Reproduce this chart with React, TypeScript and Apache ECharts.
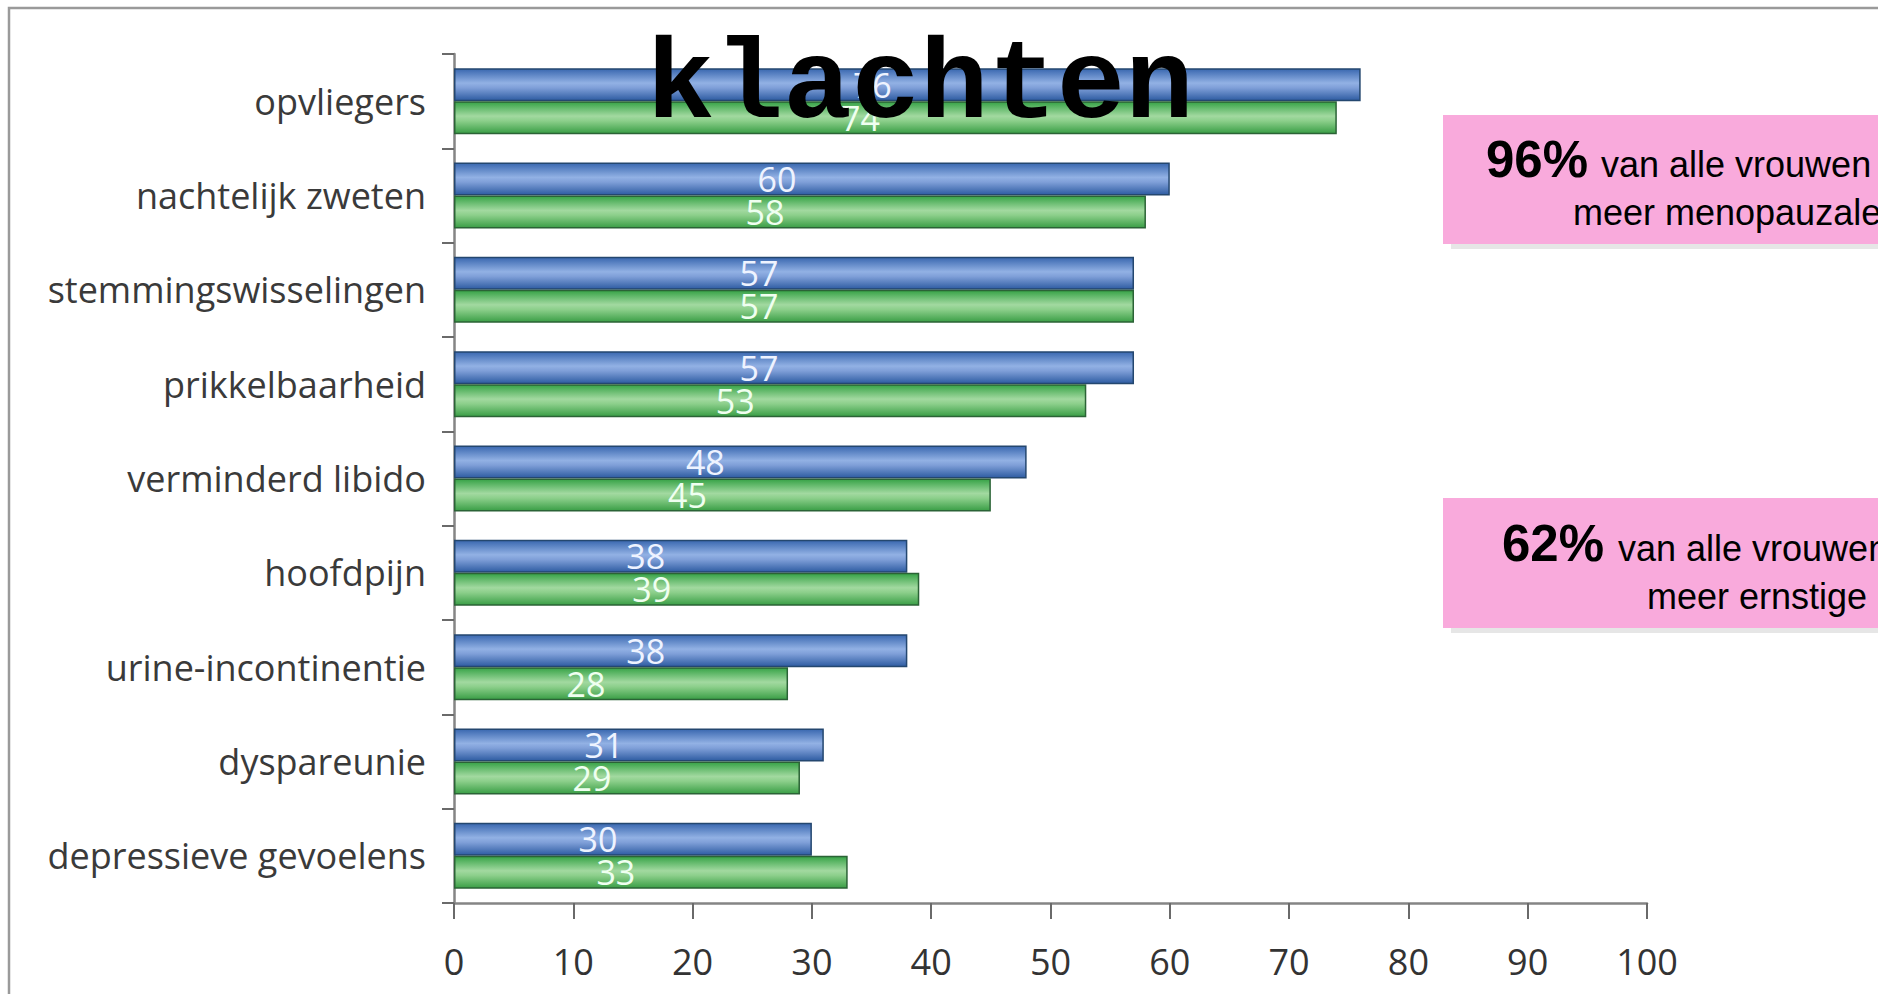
import React, { useEffect, useRef } from "react";
import * as echarts from "echarts";

const categories = [
  "opvliegers",
  "nachtelijk zweten",
  "stemmingswisselingen",
  "prikkelbaarheid",
  "verminderd libido",
  "hoofdpijn",
  "urine-incontinentie",
  "dyspareunie",
  "depressieve gevoelens",
];
const blueValues = [76, 60, 57, 57, 48, 38, 38, 31, 30];
const greenValues = [74, 58, 57, 53, 45, 39, 28, 29, 33];
const axisMin = 0;
const axisMax = 100;
const axisStep = 10;

const titleText = "klachten";
const box1Big = "96%";
const box1Line1 = "van alle vrouwen";
const box1Line2 = "meer menopauzale";
const box2Big = "62%";
const box2Line1 = "van alle vrouwen";
const box2Line2 = "meer ernstige";

const blueFill = new echarts.graphic.LinearGradient(0, 0, 0, 1, [
  { offset: 0, color: "#3a68b0" },
  { offset: 0.45, color: "#92b1e4" },
  { offset: 0.6, color: "#7f9fd8" },
  { offset: 1, color: "#2e5ca2" },
]);
const greenFill = new echarts.graphic.LinearGradient(0, 0, 0, 1, [
  { offset: 0, color: "#37a347" },
  { offset: 0.45, color: "#a2d9a0" },
  { offset: 0.6, color: "#8ccf8b" },
  { offset: 1, color: "#3a9e46" },
]);

const FONT = "'Open Sans', 'Noto Sans', sans-serif";
const SANS = "'Liberation Sans', Arial, sans-serif";

export default function App() {
  const ref = useRef<HTMLDivElement>(null);
  useEffect(() => {
    if (!ref.current) return;
    const chart = echarts.init(ref.current, undefined, { renderer: "svg" });
    const pink = "#f9aadc";
    chart.setOption({
      animation: false,
      backgroundColor: "#ffffff",
      grid: { left: 454, right: 231, top: 54, bottom: 91, containLabel: false },
      xAxis: {
        type: "value",
        min: axisMin,
        max: axisMax,
        interval: axisStep,
        splitLine: { show: false },
        axisLine: { show: true, lineStyle: { color: "#858585", width: 2.5 } },
        axisTick: { show: true, length: 16, lineStyle: { color: "#6a6a6a", width: 2 } },
        axisLabel: {
          margin: 40,
          fontFamily: FONT,
          fontSize: 36,
          color: "#333333",
        },
      },
      yAxis: {
        type: "category",
        data: categories,
        inverse: true,
        axisLine: { show: true, lineStyle: { color: "#858585", width: 2.5 } },
        axisTick: { show: true, length: 12, lineStyle: { color: "#6a6a6a", width: 2 } },
        axisLabel: {
          margin: 28,
          fontFamily: FONT,
          fontSize: 36,
          color: "#3a3a3a",
        },
      },
      series: [
        {
          name: "blauw",
          type: "bar",
          data: blueValues,
          barWidth: 33,
          barGap: "0%",
          itemStyle: { color: blueFill, borderColor: "#24476f", borderWidth: 1.5 },
          label: {
            show: true,
            position: "inside",
            offset: [-35, 0],
            fontFamily: FONT,
            fontSize: 34,
            color: "#eef3ff",
          },
        },
        {
          name: "groen",
          type: "bar",
          data: greenValues,
          barWidth: 33,
          barGap: "0%",
          itemStyle: { color: greenFill, borderColor: "#2b6336", borderWidth: 1.5 },
          label: {
            show: true,
            position: "inside",
            offset: [-35, 0],
            fontFamily: FONT,
            fontSize: 34,
            color: "#effff0",
          },
        },
      ],
      graphic: [
        {
          type: "rect",
          z: 0,
          silent: true,
          shape: { x: 9, y: 8, width: 2000, height: 2000 },
          style: { fill: "none", stroke: "#9a9a9a", lineWidth: 2.5 },
        },
        {
          type: "text",
          z: 100,
          x: 920,
          y: 86,
          style: {
            text: titleText,
            font: "bold 114px 'Courier New', 'Liberation Mono', monospace",
            fill: "#000000",
            align: "center",
            verticalAlign: "middle",
          },
        },
        // box 1
        {
          type: "rect",
          z: 50,
          shape: { x: 1451, y: 120, width: 600, height: 129 },
          style: { fill: "#e6e6e6" },
        },
        {
          type: "rect",
          z: 51,
          shape: { x: 1443, y: 115, width: 600, height: 129 },
          style: { fill: pink },
        },
        {
          type: "text",
          z: 52,
          x: 1486,
          y: 159,
          style: { text: box1Big, font: `bold 51px ${SANS}`, fill: "#000", align: "left", verticalAlign: "middle" },
        },
        {
          type: "text",
          z: 52,
          x: 1601,
          y: 164,
          style: { text: box1Line1, font: `36px ${SANS}`, fill: "#000", align: "left", verticalAlign: "middle" },
        },
        {
          type: "text",
          z: 52,
          x: 1573,
          y: 212,
          style: { text: box1Line2, font: `36px ${SANS}`, fill: "#000", align: "left", verticalAlign: "middle" },
        },
        // box 2
        {
          type: "rect",
          z: 50,
          shape: { x: 1451, y: 503, width: 600, height: 130 },
          style: { fill: "#e6e6e6" },
        },
        {
          type: "rect",
          z: 51,
          shape: { x: 1443, y: 498, width: 600, height: 130 },
          style: { fill: pink },
        },
        {
          type: "text",
          z: 52,
          x: 1502,
          y: 543,
          style: { text: box2Big, font: `bold 51px ${SANS}`, fill: "#000", align: "left", verticalAlign: "middle" },
        },
        {
          type: "text",
          z: 52,
          x: 1618,
          y: 548,
          style: { text: box2Line1, font: `36px ${SANS}`, fill: "#000", align: "left", verticalAlign: "middle" },
        },
        {
          type: "text",
          z: 52,
          x: 1647,
          y: 596,
          style: { text: box2Line2, font: `36px ${SANS}`, fill: "#000", align: "left", verticalAlign: "middle" },
        },
      ],
    });
    return () => chart.dispose();
  }, []);
  return (
    <div
      ref={ref}
      style={{ position: "fixed", left: 0, top: 0, width: "1878px", height: "994px", overflow: "hidden" }}
    />
  );
}
